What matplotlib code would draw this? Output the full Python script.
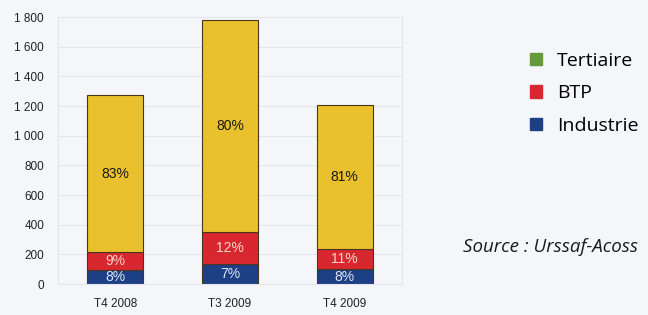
import matplotlib.pyplot as plt
import numpy as np

# data
periods = ["T4 2008", "T3 2009", "T4 2009"]
industrie = [95, 135, 100]
btp = [120, 215, 135]
tertiaire = [1060, 1430, 970]
pct_industrie = ["8%", "7%", "8%"]
pct_btp = ["9%", "12%", "11%"]
pct_tertiaire = ["83%", "80%", "81%"]
yticks = [0, 200, 400, 600, 800, 1000, 1200, 1400, 1600, 1800]

bg = "#f4f6fa"
c_yellow = "#e9c12c"
c_red = "#d9272f"
c_blue = "#1d3f85"
c_green = "#66993a"
num_font = "Liberation Sans"

fig = plt.figure(figsize=(6.48, 3.15), dpi=100, facecolor=bg)
ax = fig.add_axes([0.0895, 0.098, 0.531, 0.848], facecolor=bg)

x = np.arange(len(periods))
w = 0.49
edge = dict(edgecolor="#4a3520", linewidth=0.8)
ax.bar(x, industrie, w, color=c_blue, **edge)
ax.bar(x, btp, w, bottom=industrie, color=c_red, **edge)
bottom2 = np.array(industrie) + np.array(btp)
ax.bar(x, tertiaire, w, bottom=bottom2, color=c_yellow, **edge)

for i in range(len(periods)):
    ax.text(x[i], industrie[i] / 2, pct_industrie[i], ha="center", va="center",
            fontsize=10, color="#dfe6f5", family=num_font)
    ax.text(x[i], industrie[i] + btp[i] / 2, pct_btp[i], ha="center", va="center",
            fontsize=10, color="#f3d8c8", family=num_font)
    ax.text(x[i], bottom2[i] + tertiaire[i] / 2, pct_tertiaire[i], ha="center",
            va="center", fontsize=10, color="#1a1a1a", family=num_font)

ax.set_xlim(-0.5, 2.5)
ax.set_ylim(0, 1800)
ax.set_yticks(yticks)
ax.set_yticklabels([f"{v:,}".replace(",", " ") for v in yticks], fontsize=8.5,
                   color="#222222", family=num_font)
ax.set_xticks(x)
ax.set_xticklabels(periods, fontsize=8.5, color="#222222", family=num_font)
ax.tick_params(length=0)
ax.tick_params(axis="y", pad=10)
ax.tick_params(axis="x", pad=10)
ax.yaxis.grid(True, color="#e2e6ee", linewidth=0.8)
ax.set_axisbelow(True)
for s in ax.spines.values():
    s.set_color("#e2e6ee")
    s.set_linewidth(0.8)

# legend at the right of the figure
handles = [plt.Rectangle((0, 0), 1, 1, facecolor=c, edgecolor=e, linewidth=1)
           for c, e in [(c_green, c_green), (c_red, c_red), (c_blue, c_blue)]]
fig.legend(handles, ["Tertiaire", "BTP", "Industrie"], loc="upper left",
           bbox_to_anchor=(0.803, 0.867), frameon=False, borderpad=0,
           handlelength=0.6, handleheight=0.6, handletextpad=0.8, labelspacing=0.75,
           prop={"family": "Open Sans", "size": 14})

fig.text(0.714, 0.2, "Source : Urssaf-Acoss", fontsize=13.5, style="italic",
         family="Open Sans", color="#1a1a1a", va="baseline")

fig.savefig("out.png", dpi=100, facecolor=bg)
